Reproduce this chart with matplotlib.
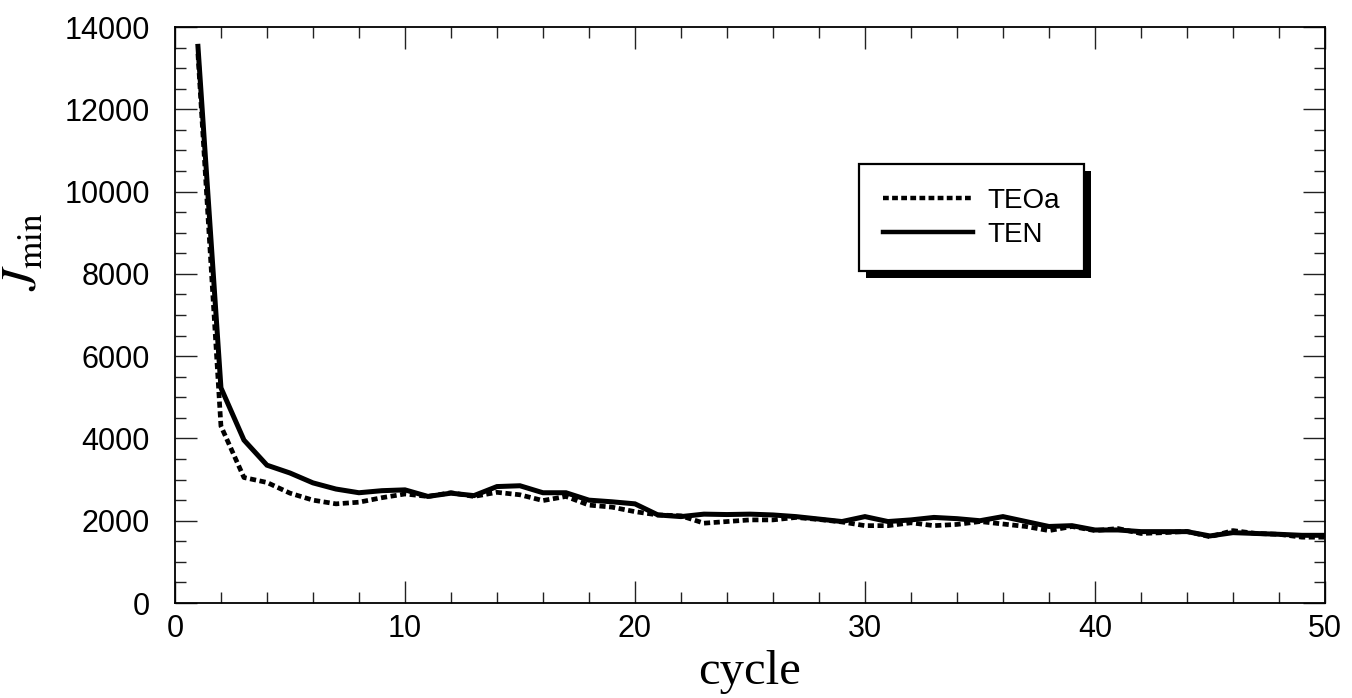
import matplotlib
matplotlib.use('Agg')
from matplotlib import pyplot as plt, patches
from matplotlib.ticker import MultipleLocator

cycles = list(range(1, 51))

j_teoa = [13350, 4300, 3050, 2930, 2670, 2500, 2410, 2450, 2560, 2650,
          2590, 2680, 2590, 2690, 2630, 2490, 2590, 2380, 2330, 2220,
          2140, 2120, 1940, 1980, 2020, 2020, 2080, 2030, 1970, 1880,
          1880, 1950, 1880, 1910, 1980, 1920, 1860, 1760, 1860, 1760,
          1810, 1690, 1710, 1740, 1610, 1760, 1690, 1670, 1600, 1600]

j_ten = [13530, 5230, 3960, 3350, 3160, 2920, 2770, 2680, 2730, 2750,
         2590, 2670, 2610, 2830, 2850, 2680, 2680, 2500, 2460, 2410,
         2140, 2100, 2160, 2150, 2160, 2140, 2100, 2040, 1980, 2100,
         1980, 2020, 2080, 2050, 2000, 2100, 1980, 1860, 1880, 1775,
         1775, 1735, 1735, 1735, 1630, 1710, 1690, 1670, 1645, 1645]

sans = 'Liberation Sans'
serif = 'Liberation Serif'
plt.rcParams['mathtext.fontset'] = 'stix'

fig = plt.figure(figsize=(13.52, 6.98), dpi=100)
ax = fig.add_axes([0.1294, 0.1361, 0.8506, 0.8252])

ax.plot(cycles, j_teoa, color='black', linewidth=3.4,
        linestyle=(0, (1.3, 0.75)), label='TEOa')
ax.plot(cycles, j_ten, color='black', linewidth=3.6,
        solid_joinstyle='miter', label='TEN')

ax.set_xlim(0, 50)
ax.set_ylim(0, 14000)
ax.xaxis.set_major_locator(MultipleLocator(10))
ax.xaxis.set_minor_locator(MultipleLocator(2))
ax.yaxis.set_major_locator(MultipleLocator(2000))
ax.yaxis.set_minor_locator(MultipleLocator(500))

ax.tick_params(which='both', direction='in', top=True, right=True,
               width=1.0, color='#222222')
ax.tick_params(which='major', length=16)
ax.tick_params(which='minor', length=8)
ax.tick_params(axis='y', which='major', pad=18)
ax.tick_params(axis='x', which='major', pad=8)
for lab in ax.get_xticklabels() + ax.get_yticklabels():
    lab.set_fontfamily(sans)
    lab.set_fontsize(22)

for sp in ax.spines.values():
    sp.set_linewidth(1.3)

ax.set_xlabel('cycle', fontfamily=serif, fontsize=35, labelpad=4)
ax.set_ylabel(r'$J_{\mathrm{min}}$', fontsize=36)
ax.yaxis.set_label_coords(-0.112, 0.61)

leg = ax.legend(loc='upper left', bbox_to_anchor=(0.595, 0.762),
                borderaxespad=0, frameon=True, fancybox=False,
                framealpha=1, handlelength=3.24, handletextpad=0.54,
                borderpad=0.85, labelspacing=0.29,
                prop={'family': sans, 'size': 20})
leg.get_frame().set_edgecolor('black')
leg.get_frame().set_facecolor('white')
leg.get_frame().set_linewidth(1.6)
leg.set_zorder(10)
for h in leg.get_lines():
    h.set_linewidth(3.2)

# offset black box behind the legend frame as a drop shadow
fig.canvas.draw()
bb = leg.get_window_extent()
shadow = patches.Rectangle((bb.x0 + 7, bb.y0 - 7), bb.width, bb.height,
                           transform=None, facecolor='black',
                           edgecolor='none', zorder=9)
ax.add_artist(shadow)

plt.savefig('out.png', dpi=100)
